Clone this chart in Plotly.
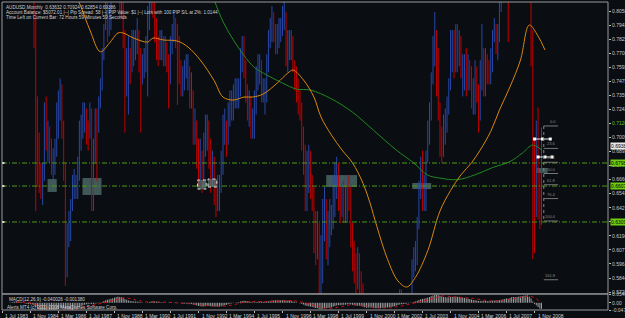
import plotly.graph_objects as go
import pandas as pd
import numpy as np

# ---------------- data ----------------
START = "1983-07-01"
HIGH = [
 .893,.890,.897,.903,.910,.915,
 .935,.950,.945,.935,.915,.905,.875,.858,.855,.860,.870,.865,
 .840,.805,.735,.705,.680,.680,.730,.735,.715,.710,.700,.692,
 .700,.730,.740,.750,.745,.715,.680,.630,.640,.650,.670,.675,
 .670,.685,.715,.720,.730,.730,.725,.715,.730,.725,.700,.725,
 .725,.735,.750,.775,.795,.815,.815,.810,.825,.840,.870,.875,
 .890,.885,.840,.830,.790,.775,.785,.775,.790,.790,.790,.800,
 .790,.775,.770,.775,.785,.810,.820,.835,.835,.825,.800,.785,
 .790,.790,.785,.785,.780,.770,.785,.795,.805,.800,.795,.785,
 .765,.760,.765,.770,.770,.760,.755,.740,.725,.715,.700,.700,
 .690,.705,.720,.720,.715,.700,.690,.685,.665,.670,.670,.690,
 .720,.725,.715,.730,.740,.740,.745,.750,.750,.750,.775,.785,
 .785,.765,.745,.740,.735,.725,.740,.760,.770,.770,.765,.750,
 .750,.770,.790,.800,.810,.805,.795,.795,.800,.800,.810,.815,
 .805,.790,.790,.790,.785,.765,.760,.750,.740,.730,.710,.695,
 .690,.695,.690,.670,.660,.640,.640,.630,.620,.650,.660,.650,
 .640,.650,.645,.670,.680,.685,.680,.660,.665,.665,.660,.670,
 .670,.660,.630,.615,.605,.610,.605,.590,.580,.550,.545,.565,
 .565,.560,.535,.520,.525,.530,.520,.540,.530,.515,.530,.530,
 .525,.525,.540,.550,.565,.575,.575,.560,.560,.565,.570,.570,
 .600,.610,.615,.635,.665,.685,.690,.670,.690,.715,.730,.755,
 .785,.805,.790,.775,.730,.710,.720,.725,.735,.750,.790,.790,
 .790,.795,.795,.790,.785,.770,.770,.775,.770,.765,.760,.750,
 .765,.760,.745,.765,.795,.775,.775,.770,.765,.775,.790,.800,
 .795,.795,.815,.840,.840,.855,.885,.885,.895,.935,.930,.885,
 .900,.935,.945,.945,.970,.965,.985,.905,.860,.790,.700,.715,
 .726,.672,.70924]
LOW = [
 .875,.872,.876,.885,.888,.890,
 .898,.925,.920,.905,.890,.862,.820,.825,.825,.830,.845,.820,
 .775,.640,.660,.655,.650,.645,.665,.690,.680,.680,.670,.665,
 .670,.685,.700,.715,.700,.665,.578,.585,.610,.615,.640,.650,
 .650,.650,.665,.690,.700,.705,.695,.690,.700,.640,.640,.680,
 .665,.705,.725,.740,.765,.790,.780,.785,.790,.815,.835,.845,
 .840,.800,.800,.775,.705,.735,.720,.745,.755,.760,.765,.770,
 .755,.705,.745,.750,.755,.735,.790,.805,.800,.780,.765,.760,
 .765,.765,.760,.760,.755,.725,.745,.770,.780,.775,.728,.745,
 .735,.735,.740,.750,.740,.725,.725,.695,.695,.675,.660,.665,
 .655,.660,.685,.690,.675,.655,.660,.645,.635,.640,.640,.655,
 .670,.695,.685,.695,.710,.715,.715,.725,.725,.725,.735,.755,
 .750,.730,.715,.710,.700,.700,.700,.720,.740,.745,.730,.730,
 .720,.730,.755,.775,.780,.780,.770,.770,.775,.780,.785,.790,
 .760,.755,.765,.765,.755,.740,.730,.720,.715,.690,.670,.640,
 .640,.655,.650,.640,.605,.595,.600,.550,.560,.580,.615,.600,
 .595,.610,.620,.625,.635,.650,.640,.630,.635,.630,.630,.630,
 .640,.610,.590,.580,.565,.575,.565,.560,.520,.515,.505,.510,
 .540,.520,.475,.485,.495,.495,.490,.500,.475,.480,.495,.500,
 .500,.505,.515,.520,.535,.550,.535,.535,.535,.540,.550,.550,
 .555,.585,.590,.595,.625,.650,.640,.640,.640,.680,.695,.715,
 .745,.760,.735,.715,.685,.680,.685,.695,.705,.720,.740,.755,
 .750,.755,.755,.760,.750,.735,.740,.735,.740,.740,.725,.720,
 .720,.730,.705,.715,.740,.735,.735,.745,.745,.745,.755,.780,
 .770,.765,.780,.805,.815,.815,.845,.780,.825,.880,.860,.855,
 .850,.880,.890,.885,.930,.940,.940,.850,.760,.600,.605,.635,
 .633,.625,.62854]
CLOSE = [
 .885,.880,.890,.895,.900,.902,
 .930,.940,.930,.910,.900,.870,.830,.850,.840,.850,.860,.830,
 .790,.700,.690,.665,.660,.670,.720,.700,.700,.690,.680,.680,
 .690,.720,.720,.740,.710,.670,.590,.620,.620,.630,.660,.660,
 .660,.670,.710,.710,.720,.720,.710,.700,.720,.660,.690,.720,
 .710,.720,.740,.760,.790,.810,.800,.800,.820,.830,.860,.860,
 .880,.820,.830,.790,.750,.760,.770,.760,.780,.780,.780,.790,
 .770,.750,.760,.760,.770,.800,.810,.830,.820,.790,.780,.770,
 .780,.780,.770,.780,.770,.760,.780,.790,.800,.790,.780,.760,
 .750,.750,.760,.760,.760,.740,.740,.710,.710,.690,.680,.690,
 .670,.700,.710,.710,.690,.670,.680,.660,.650,.660,.660,.680,
 .710,.710,.700,.720,.730,.730,.730,.740,.740,.740,.770,.780,
 .760,.740,.730,.730,.710,.710,.730,.750,.760,.760,.740,.740,
 .740,.760,.780,.790,.800,.790,.780,.790,.790,.790,.800,.800,
 .770,.780,.780,.780,.760,.750,.740,.730,.720,.700,.690,.650,
 .660,.680,.660,.650,.620,.610,.620,.580,.590,.630,.640,.610,
 .620,.630,.630,.660,.660,.670,.650,.640,.650,.640,.640,.660,
 .650,.620,.600,.590,.580,.600,.580,.570,.540,.520,.520,.560,
 .550,.530,.490,.510,.510,.510,.500,.530,.490,.500,.520,.510,
 .510,.520,.530,.540,.560,.560,.540,.540,.540,.560,.560,.560,
 .590,.600,.600,.630,.650,.670,.650,.650,.680,.700,.720,.750,
 .760,.770,.760,.720,.710,.690,.700,.720,.720,.740,.780,.780,
 .760,.790,.770,.780,.760,.760,.760,.750,.760,.750,.730,.730,
 .750,.740,.720,.760,.760,.740,.770,.760,.750,.770,.790,.790,
 .770,.790,.810,.830,.830,.850,.860,.820,.890,.930,.880,.880,
 .890,.930,.910,.940,.960,.960,.960,.860,.790,.660,.650,.700,
 .645,.6363,.69386]
OPEN_FIRST = 0.880

# moving averages (month index from Jul 1983, value)
ORANGE_M = [41, 45, 50, 56, 61, 66, 69, 75, 83, 86, 92, 100, 106, 113, 121, 126, 132, 138, 143, 149, 157, 163, 166,
            172, 178, 182, 188, 194, 200, 206, 210, 214, 220, 226, 231, 236, 243, 250, 256, 262, 268, 273, 279, 284,
            290, 296, 301, 306, 310]
ORANGE_V = [.822, .809, .790, .772, .779, .7876, .7876, .7834, .7801, .7834, .7818, .7809, .776, .7652, .748, .7345,
            .732, .7345, .7345, .737, .7461, .7544, .7569, .7486, .7345, .718, .703, .6906, .680, .663, .6466, .627,
            .600, .582, .577, .585, .607, .640, .657, .670, .680, .6906, .706, .7237, .743, .7652, .7942, .785, .7735]
GREEN_M = [121, 126, 132, 138, 144, 151, 160, 168, 176, 188, 200, 212, 225, 235, 243, 250, 260, 270, 280, 290, 297, 303, 308]
GREEN_V = [.815, .797, .7818, .769, .759, .7528, .7461, .7411, .7403, .733, .722, .707, .6906, .6798, .6698, .6673,
           .666, .670, .676, .681, .688, .6947, .6906]

HLINES = [0.67980, 0.66070, 0.63090]
CUR_PRICE = 0.69386
YTICKS = [0.80580, 0.79415, 0.78250, 0.77085, 0.75920, 0.74755, 0.73590, 0.72425, 0.71260, 0.70095,
          0.68930, 0.67765, 0.66600, 0.65435, 0.64270, 0.63105, 0.61940, 0.60775, 0.59610, 0.58445, 0.57280]
XTICK_DATES = ["1983-07-01", "1984-11-01", "1986-03-01", "1987-07-01", "1988-11-01", "1990-03-01", "1991-07-01",
               "1992-11-01", "1994-03-01", "1995-07-01", "1996-11-01", "1998-03-01", "1999-07-01", "2000-11-01",
               "2002-03-01", "2003-07-01", "2004-11-01", "2006-03-01", "2007-07-01", "2008-11-01"]
XTICK_TEXT = ["1 Jul 1983", "1 Nov 1984", "1 Mar 1986", "1 Jul 1987", "1 Nov 1988", "1 Mar 1990", "1 Jul 1991",
              "1 Nov 1992", "1 Mar 1994", "1 Jul 1995", "1 Nov 1996", "1 Mar 1998", "1 Jul 1999", "1 Nov 2000",
              "1 Mar 2002", "1 Jul 2003", "1 Nov 2004", "1 Mar 2006", "1 Jul 2007", "1 Nov 2008"]
# rectangles: (start date, end date, top price, bottom price)
RECTS = [("1985-08-25", "1986-02-01", 0.6665, 0.6558), ("1987-04-25", "1988-03-20", 0.6674, 0.6533),
         ("1998-12-01", "2000-05-20", 0.6698, 0.6599), ("2003-01-05", "2003-12-01", 0.6632, 0.6582),
         ("2008-12-01", "2009-06-15", 0.6757, 0.6715)]
SMALL_BOXES = [("1992-10-15", "1993-03-15", 0.6657, 0.6582), ("1993-04-15", "1993-09-15", 0.6665, 0.6599)]
FIB_LEVELS = ["0.0", "23.6", "38.2", "50.0", "61.8", "76.4", "100.0", "161.8"]
FIB_PRICES = [0.7105, 0.6919, 0.6804, 0.6711, 0.6618, 0.6503, 0.6317, 0.5830]
FIB_X = ["2009-04-10", "2009-12-15"]
# short trend lines with handles: (dates, price)
TREND_DATES = [["2008-11-01", "2009-03-20", "2009-08-01"], ["2009-01-01", "2009-05-01", "2009-09-01"]]
TREND_PRICES = [0.6997, 0.6848]
TITLE_LINES = ["AUDUSD,Monthly  0.63632 0.70924 0.62854 0.69386",
               "Account Balance: $5072.01 |--| Pip Spread: 58 |--| PIP Value: $1 |--| Lots with 100 PIP S/L at 2%: 1.0144",
               "Time Left on Current Bar: 72 Hours 59 Minutes 59 Seconds"]
MACD_LABEL = "MACD(12,26,9) -0.040026 -0.001380"
COPYRIGHT = "Alerts MT4 (c) 2001-2008 MetaQuotes Software Corp."

# ---------------- build ----------------
BG = "#0a0d12"
RED = "#c40000"
BLUE = "#2848a8"
FONT = "Liberation Sans"

dates = pd.date_range(START, periods=len(CLOSE), freq="MS")
opens = [OPEN_FIRST] + CLOSE[:-1]

fig = go.Figure()

def bar_xy(mask):
    xs, ys = [], []
    for d, h, l, m in zip(dates, HIGH, LOW, mask):
        if m:
            xs += [d, d, None]
            ys += [l, h, None]
    return xs, ys

up = [c >= o for c, o in zip(CLOSE, opens)]
dn = [not u for u in up]
for mask, col in [(dn, RED), (up, BLUE)]:
    xs, ys = bar_xy(mask)
    fig.add_trace(go.Scatter(x=xs, y=ys, mode="lines", line=dict(color=col, width=1),
                             hoverinfo="skip", showlegend=False, xaxis="x", yaxis="y"))

od = [dates[0] + pd.DateOffset(months=m) for m in ORANGE_M]
gd = [dates[0] + pd.DateOffset(months=m) for m in GREEN_M]
fig.add_trace(go.Scatter(x=gd, y=GREEN_V, mode="lines", line=dict(color="#1f8a1f", width=1, shape="spline"),
                         showlegend=False, hoverinfo="skip"))
fig.add_trace(go.Scatter(x=od, y=ORANGE_V, mode="lines", line=dict(color="#d9880f", width=1, shape="spline"),
                         showlegend=False, hoverinfo="skip"))
for td, tp in zip(TREND_DATES, TREND_PRICES):
    fig.add_trace(go.Scatter(x=td, y=[tp] * len(td), mode="lines+markers",
                             line=dict(color="#e8e8e8", width=1),
                             marker=dict(size=3, color="#ffffff", symbol="square"),
                             showlegend=False, hoverinfo="skip"))

# MACD (computed from closes)
cs = pd.Series(CLOSE)
macd = cs.ewm(span=12, adjust=False).mean() - cs.ewm(span=26, adjust=False).mean()
sig = macd.rolling(9).mean()
mx, my = [], []
for d, v in zip(dates, macd):
    mx += [d, d, None]
    my += [0, v, None]
fig.add_trace(go.Scatter(x=mx, y=my, mode="lines", line=dict(color="#a0a0a0", width=1),
                         showlegend=False, hoverinfo="skip", xaxis="x", yaxis="y2"))
fig.add_trace(go.Scatter(x=dates, y=sig, mode="lines", line=dict(color="#d01010", width=1, dash="dot"),
                         showlegend=False, hoverinfo="skip", xaxis="x", yaxis="y2"))

x0 = dates[0] - pd.DateOffset(days=6)
x1 = dates[0] + pd.DateOffset(months=346)

shapes = []
for p in HLINES:
    shapes.append(dict(type="line", xref="paper", x0=0, x1=1, yref="y", y0=p, y1=p,
                       line=dict(color="#4c9a16", width=1, dash="5px,2px,1px,2px")))
    shapes.append(dict(type="line", xref="paper", x0=0, x1=0.004, yref="y", y0=p, y1=p,
                       line=dict(color="#e0e0e0", width=2)))
for a, b, t, bt in RECTS:
    shapes.append(dict(type="rect", xref="x", x0=a, x1=b, yref="y", y0=bt, y1=t,
                       fillcolor="rgba(100,140,135,0.6)", line=dict(width=0), layer="below"))
for a, b, t, bt in SMALL_BOXES:
    shapes.append(dict(type="rect", xref="x", x0=a, x1=b, yref="y", y0=bt, y1=t,
                       fillcolor="rgba(100,140,135,0.6)", line=dict(color="#dddddd", width=1, dash="dot")))
# fib
shapes.append(dict(type="line", xref="x", x0=FIB_X[0], x1=FIB_X[0], yref="y", y0=FIB_PRICES[0], y1=FIB_PRICES[6],
                   line=dict(color="#888888", width=1, dash="dot")))
for p in FIB_PRICES:
    shapes.append(dict(type="line", xref="x", x0=FIB_X[0], x1=FIB_X[1], yref="y", y0=p, y1=p,
                       line=dict(color="#777777", width=1)))
# frame
shapes.append(dict(type="rect", xref="paper", yref="paper", x0=0, x1=1, y0=0.052, y1=1,
                   line=dict(color="#9a9a9a", width=1)))
shapes.append(dict(type="rect", xref="paper", yref="paper", x0=0, x1=1, y0=0, y1=0.052,
                   line=dict(color="#9a9a9a", width=1)))

ann = []
for i, t in enumerate(TITLE_LINES):
    ann.append(dict(xref="paper", yref="paper", x=0.003, y=1 - 0.002 - i * 0.0175, xanchor="left", yanchor="top",
                    text=t, showarrow=False, font=dict(size=4.6, color="#d0d0d0", family=FONT)))
ann.append(dict(xref="paper", yref="paper", x=0.008, y=0.05, xanchor="left", yanchor="top", text=MACD_LABEL,
                showarrow=False, font=dict(size=4.6, color="#d0d0d0", family=FONT)))
ann.append(dict(xref="paper", yref="paper", x=0.005, y=0.024, xanchor="left", yanchor="top", text=COPYRIGHT,
                showarrow=False, font=dict(size=4.6, color="#d0d0d0", family=FONT)))
for d, t in zip(XTICK_DATES, XTICK_TEXT):
    ann.append(dict(xref="x", yref="paper", x=d, y=0, xanchor="left", yanchor="top", xshift=1, yshift=-1,
                    text=t, showarrow=False, font=dict(size=5, color="#d0d0d0", family=FONT)))
for p in HLINES:
    ann.append(dict(xref="paper", yref="y", x=1, y=p, xanchor="left", xshift=2, text="%.5f" % p, showarrow=False,
                    bgcolor="#6fcc10", font=dict(size=5, color="#000000", family=FONT), borderpad=0))
ann.append(dict(xref="paper", yref="y", x=1, y=CUR_PRICE, xanchor="left", xshift=2, text="%.5f" % CUR_PRICE,
                showarrow=False, bgcolor="#e8e8e8", font=dict(size=5, color="#000000", family=FONT), borderpad=0))
for lab, p in zip(FIB_LEVELS, FIB_PRICES):
    ann.append(dict(xref="x", yref="y", x=FIB_X[1], y=p, xanchor="right", yanchor="bottom", text=lab,
                    showarrow=False, font=dict(size=4, color="#8a8a8a", family=FONT)))

yticktext = ["%.5f" % v for v in YTICKS]
yticktext[8] = '<span style="color:#5fc020">%.5f</span>' % YTICKS[8]

fig.update_layout(
    width=625, height=318, margin=dict(l=2, r=17, t=2, b=8),
    paper_bgcolor=BG, plot_bgcolor=BG, showlegend=False,
    shapes=shapes, annotations=ann,
    xaxis=dict(range=[x0, x1], showgrid=False, zeroline=False, ticks="outside", ticklen=2,
               tickcolor="#bbbbbb", tickvals=XTICK_DATES, showticklabels=False, anchor="y2",
               showline=False),
    yaxis=dict(domain=[0.052, 1], side="right", range=[0.5712, 0.8133], showgrid=False, zeroline=False,
               tickvals=YTICKS, ticktext=yticktext, ticks="outside", ticklen=2, tickcolor="#bbbbbb",
               tickfont=dict(size=5, color="#c8c8c8", family=FONT), automargin=False, anchor="x"),
    yaxis2=dict(domain=[0, 0.05], side="right", range=[-0.0479, 0.0541], showgrid=False, zeroline=False,
                tickvals=[0.0541, 0.0, -0.0479], ticktext=["0.054092", "0.00", "-0.047935"],
                ticks="outside", ticklen=2, tickcolor="#bbbbbb",
                tickfont=dict(size=5, color="#c8c8c8", family=FONT), automargin=False, anchor="x"),
)
fig.write_html("out.html")
